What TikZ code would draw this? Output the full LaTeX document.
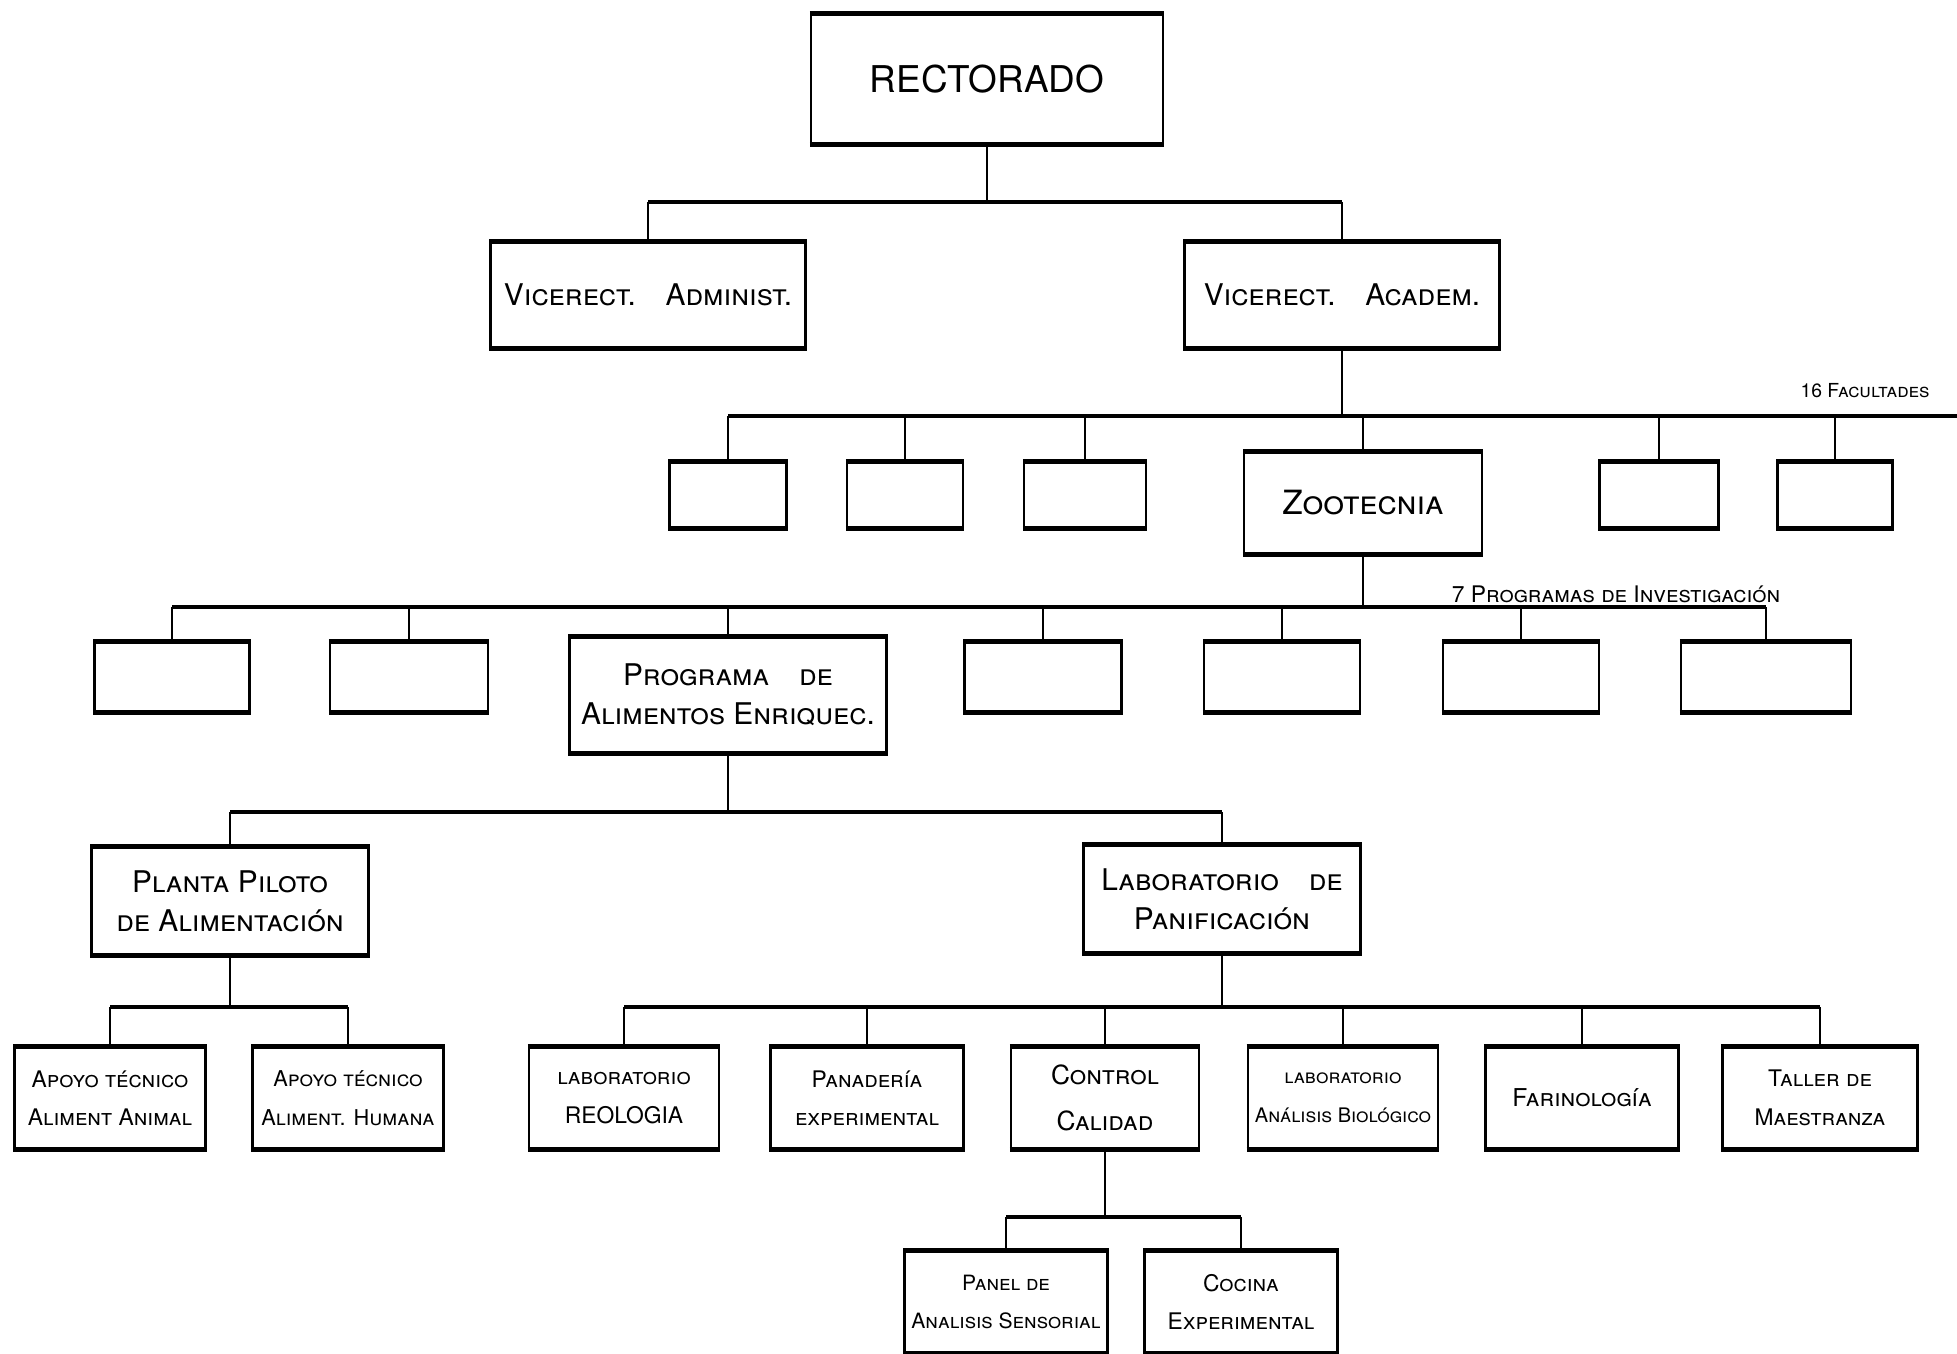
\documentclass[tikz,border=0pt]{standalone}
\usepackage{fontspec}
\setmainfont{TeX Gyre Heros}
\usetikzlibrary{positioning}

\begin{document}
\begin{tikzpicture}[
  unit/.style={draw, line width=0.7pt, align=center, inner sep=2pt, font=\scshape\fontsize{8.5}{11}\selectfont},
  blank/.style={draw, line width=0.7pt, minimum height=0.64cm},
  subunit/.style={unit, font=\scshape\fontsize{6.5}{11}\selectfont, minimum height=1cm},
  note/.style={font=\scshape\fontsize{6}{7}\selectfont, inner sep=1pt},
  bus/.style={line width=1.1pt},
  drop/.style={line width=0.6pt}
]
  \useasboundingbox (0,0) rectangle (19.57,-13.54);

  % Rectorado
  \node[unit, font=\fontsize{10.5}{12}\selectfont, minimum width=3.52cm, minimum height=1.29cm] (rect) at (9.87,-0.79) {RECTORADO};
  \node[unit, minimum width=3.15cm, minimum height=1.04cm] (vadm) at (6.48,-2.95) {Vicerect.\quad Administ.};
  \node[unit, minimum width=3.15cm, minimum height=1.04cm] (vaca) at (13.42,-2.95) {Vicerect.\quad Academ.};

  \coordinate (busR) at (9.87,-2.02);
  \draw[drop] (rect) -- (busR);
  \draw[bus] (vadm.north |- busR) -- (vaca.north |- busR);
  \foreach \n in {vadm,vaca} \draw[drop] (\n.north |- busR) -- (\n.north);

  % Facultades
  \node[blank, minimum width=1.17cm] (fac1) at (7.28,-4.95) {};
  \node[blank, minimum width=1.16cm] (fac2) at (9.05,-4.95) {};
  \node[blank, minimum width=1.22cm] (fac3) at (10.85,-4.95) {};
  \node[unit, font=\scshape\fontsize{9.5}{11}\selectfont, minimum width=2.38cm, minimum height=1cm] (zoo) at (13.63,-5.03) {Zootecnia};
  \node[blank, minimum width=1.19cm] (fac5) at (16.59,-4.95) {};
  \node[blank, minimum width=1.15cm] (fac6) at (18.35,-4.95) {};
  \node[note, font=\scshape\fontsize{5.5}{7}\selectfont] (nfac) at (18.65,-3.91) {16 Facultades};

  \coordinate (busF) at (13.42,-4.16);
  \coordinate (busFend) at (19.57,-4.16);
  \draw[drop] (vaca) -- (busF);
  \draw[bus] (fac1.north |- busF) -- (busFend);
  \foreach \n in {fac1,fac2,fac3,zoo,fac5,fac6} \draw[drop] (\n.north |- busF) -- (\n.north);

  % Programas de investigacion
  \node[blank, minimum width=1.55cm, minimum height=0.69cm] (p1) at (1.72,-6.77) {};
  \node[blank, minimum width=1.58cm, minimum height=0.69cm] (p2) at (4.09,-6.77) {};
  \node[unit, minimum width=3.17cm, minimum height=1.15cm] (prog) at (7.28,-6.95) {Programa\quad de\\Alimentos Enriquec.};
  \node[blank, minimum width=1.57cm, minimum height=0.69cm] (p4) at (10.43,-6.77) {};
  \node[blank, minimum width=1.56cm, minimum height=0.69cm] (p5) at (12.82,-6.77) {};
  \node[blank, minimum width=1.56cm, minimum height=0.69cm] (p6) at (15.21,-6.77) {};
  \node[blank, minimum width=1.70cm, minimum height=0.69cm] (p7) at (17.66,-6.77) {};
  \node[note, font=\scshape\fontsize{6.5}{7}\selectfont] (nprog) at (16.16,-5.94) {7 Programas de Investigación};

  \coordinate (busP) at (13.63,-6.07);
  \draw[drop] (zoo) -- (busP);
  \draw[bus] (p1.north |- busP) -- (p7.north |- busP);
  \foreach \n in {p1,p2,prog,p4,p5,p6,p7} \draw[drop] (\n.north |- busP) -- (\n.north);

  % Planta piloto y laboratorio
  \node[unit, minimum width=2.77cm, minimum height=1.06cm] (planta) at (2.30,-9.01) {Planta Piloto\\de Alimentación};
  \node[unit, minimum width=2.77cm, minimum height=1.07cm] (labpan) at (12.22,-8.99) {Laboratorio\quad de\\Panificación};

  \coordinate (busA) at (7.28,-8.12);
  \draw[drop] (prog) -- (busA);
  \draw[bus] (planta.north |- busA) -- (labpan.north |- busA);
  \foreach \n in {planta,labpan} \draw[drop] (\n.north |- busA) -- (\n.north);

  % Apoyo tecnico
  \node[subunit, minimum width=1.91cm] (apo1) at (1.10,-10.98) {Apoyo técnico\\Aliment Animal};
  \node[subunit, minimum width=1.91cm, font=\scshape\fontsize{6.2}{11}\selectfont] (apo2) at (3.48,-10.98) {Apoyo técnico\\Aliment. Humana};

  \coordinate (busB) at (2.30,-10.07);
  \draw[drop] (planta) -- (busB);
  \draw[bus] (apo1.north |- busB) -- (apo2.north |- busB);
  \foreach \n in {apo1,apo2} \draw[drop] (\n.north |- busB) -- (\n.north);

  % Secciones del laboratorio
  \node[subunit, minimum width=1.90cm] (reol) at (6.24,-10.98) {laboratorio\\REOLOGIA};
  \node[subunit, minimum width=1.93cm] (pana) at (8.67,-10.98) {Panadería\\experimental};
  \node[subunit, minimum width=1.88cm, font=\scshape\fontsize{7.5}{13}\selectfont] (ctrl) at (11.05,-10.98) {Control\\Calidad};
  \node[subunit, minimum width=1.90cm, font=\scshape\fontsize{5.7}{11}\selectfont] (biol) at (13.43,-10.98) {laboratorio\\Análisis Biológico};
  \node[subunit, minimum width=1.93cm, font=\scshape\fontsize{7}{11}\selectfont] (fari) at (15.82,-10.98) {Farinología};
  \node[subunit, minimum width=1.95cm] (tall) at (18.20,-10.98) {Taller de\\Maestranza};

  \coordinate (busC) at (12.22,-10.07);
  \draw[drop] (labpan) -- (busC);
  \draw[bus] (reol.north |- busC) -- (tall.north |- busC);
  \foreach \n in {reol,pana,ctrl,biol,fari,tall} \draw[drop] (\n.north |- busC) -- (\n.north);

  % Control de calidad
  \node[subunit, minimum width=1.97cm, font=\scshape\fontsize{6}{11}\selectfont] (panel) at (10.06,-13.02) {Panel de\\Analisis Sensorial};
  \node[subunit, minimum width=1.93cm] (cocina) at (12.41,-13.02) {Cocina\\Experimental};

  \coordinate (busD) at (11.05,-12.17);
  \draw[drop] (ctrl) -- (busD);
  \draw[bus] (panel.north |- busD) -- (cocina.north |- busD);
  \foreach \n in {panel,cocina} \draw[drop] (\n.north |- busD) -- (\n.north);

  % bordes gruesos arriba y abajo
  \foreach \n in {rect,vadm,vaca,fac1,fac2,fac3,zoo,fac5,fac6,p1,p2,prog,p4,p5,p6,p7,planta,labpan,apo1,apo2,reol,pana,ctrl,biol,fari,tall,panel,cocina}
    \draw[line width=1.5pt] (\n.north west) -- (\n.north east) (\n.south west) -- (\n.south east);
\end{tikzpicture}
\end{document}
